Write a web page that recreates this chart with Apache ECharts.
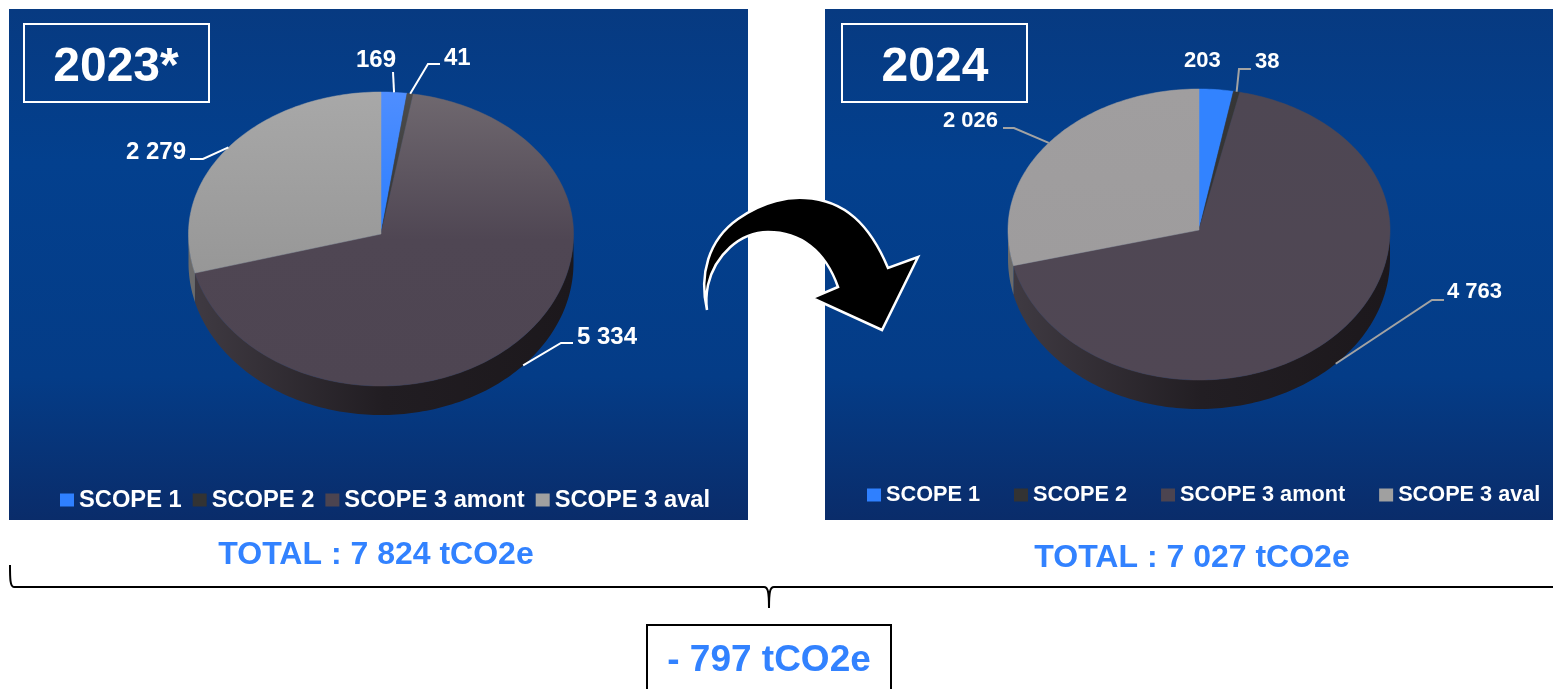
<!DOCTYPE html>
<html>
<head>
<meta charset="utf-8">
<style>
  html, body { margin: 0; padding: 0; background: #fff; overflow: hidden; }
  #main { width: 1553px; height: 689px; }
</style>
<script src="https://cdn.jsdelivr.net/npm/echarts@6/dist/echarts.min.js"></script>
</head>
<body>
<div id="main"></div>
<script>
var categories = ['SCOPE 1', 'SCOPE 2', 'SCOPE 3 amont', 'SCOPE 3 aval'];
var years = ['2023*', '2024'];
var values2023 = [169, 41, 5334, 2279];
var values2024 = [203, 38, 4763, 2026];
var totals = ['TOTAL : 7 824 tCO2e', 'TOTAL : 7 027 tCO2e'];
var difference = '- 797 tCO2e';

var FONT = '"Liberation Sans", Arial, sans-serif';
var BLUE = '#3282ff';
var legendColors = ['#2f80ff', '#333333', '#4c4450', '#a0a0a0'];

// geometry of each pie; the front half is a bit taller than the back (perspective)
var pies = [
  { cx: 381, cy: 234, rx: 192.5, ryBack: 142, ryFront: 152, depth: 29, values: values2023 },
  { cx: 1199, cy: 230, rx: 191, ryBack: 141, ryFront: 150, depth: 29, values: values2024 }
];

// elbows of the leader lines and where the label sits
var labelLayout = [
  [
    { line: [[393, 72]], x: 356, y: 60, align: 'left', size: 24 },
    { line: [[428, 64], [440, 64]], x: 444, y: 58, align: 'left', size: 24 },
    { line: [[561, 343], [573, 343]], x: 577, y: 337, align: 'left', size: 24, wall: true },
    { line: [[203, 159], [190, 159]], x: 186, y: 152, align: 'right', size: 24 }
  ],
  [
    { line: null, x: 1184, y: 61, align: 'left', size: 22 },
    { line: [[1239, 69], [1251, 69]], x: 1255, y: 62, align: 'left', size: 22 },
    { line: [[1432, 300], [1444, 300]], x: 1447, y: 292, align: 'left', size: 22, wall: true },
    { line: [[1014, 128], [1003, 128]], x: 998, y: 121, align: 'right', size: 22 }
  ]
];
var leaderColors = ['#ffffff', '#a3a3a3'];

function vGrad(a, b) {
  return new echarts.graphic.LinearGradient(0, 0, 0, 1, [{ offset: 0, color: a }, { offset: 1, color: b }]);
}
function hGrad(stops) {
  return new echarts.graphic.LinearGradient(0, 0, 1, 0, stops);
}

var topFill = [
  [vGrad('#4f8eff', '#2a7eff'), vGrad('#4c4c4c', '#333333'), new echarts.graphic.LinearGradient(0, 0, 0, 1, [{ offset: 0, color: '#6f686f' }, { offset: 0.5, color: '#4f4653' }, { offset: 1, color: '#4e4552' }]), vGrad('#a8a8a8', '#979797')],
  [vGrad('#3283ff', '#3283ff'), vGrad('#363636', '#333333'), vGrad('#4e4753', '#504754'), vGrad('#a09e9f', '#9e9c9d')]
];
var wallFill = [
  hGrad([{ offset: 0, color: '#3f3a42' }, { offset: 0.5, color: '#211d22' }, { offset: 1, color: '#1c181c' }]),
  hGrad([{ offset: 0, color: '#3f3a42' }, { offset: 0.5, color: '#221e23' }, { offset: 1, color: '#1c181c' }])
];
var wallGray = '#6b6b6b';

function ellipsePoint(pie, t, shift) {
  var c = Math.cos(t);
  return [pie.cx + pie.rx * Math.sin(t), pie.cy - (c > 0 ? pie.ryBack : pie.ryFront) * c + (shift || 0)];
}

function arcPoints(pie, from, to, shift) {
  var pts = [];
  var n = Math.max(2, Math.ceil(Math.abs(to - from) / 0.02));
  for (var i = 0; i <= n; i++) {
    pts.push(ellipsePoint(pie, from + (to - from) * i / n, shift));
  }
  return pts;
}

function formatValue(v) {
  return String(v).replace(/\B(?=(\d{3})+$)/g, ' ');
}

// one scope of one year: wall, top face, leader and label
function renderSlice(params, api) {
  var yearIdx = params.dataIndex;
  var scope = params.seriesIndex;
  var pie = pies[yearIdx];
  var total = pie.values.reduce(function (a, b) { return a + b; }, 0);
  var before = 0;
  for (var i = 0; i < scope; i++) before += pie.values[i];
  var value = api.value(0);
  var start = before / total * Math.PI * 2;
  var end = (before + value) / total * Math.PI * 2;
  var children = [];

  // the visible wall is the front half only
  var wallFrom = Math.max(start, Math.PI / 2);
  var wallTo = Math.min(end, Math.PI * 1.5);
  if (wallTo > wallFrom) {
    var front = arcPoints(pie, wallFrom, wallTo, 0);
    var back = arcPoints(pie, wallTo, wallFrom, pie.depth);
    children.push({
      type: 'polygon',
      shape: { points: front.concat(back) },
      style: { fill: scope === 3 ? wallGray : wallFill[yearIdx] }
    });
  }

  var top = [[pie.cx, pie.cy]].concat(arcPoints(pie, start, end, 0));
  children.push({
    type: 'polygon',
    shape: { points: top },
    style: { fill: topFill[yearIdx][scope], stroke: topFill[yearIdx][scope], lineWidth: 0.5 }
  });

  var layout = labelLayout[yearIdx][scope];
  if (layout.line) {
    var anchor = ellipsePoint(pie, (start + end) / 2, layout.wall ? pie.depth : 0);
    children.push({
      type: 'polyline',
      shape: { points: [anchor].concat(layout.line) },
      style: { fill: 'none', stroke: leaderColors[yearIdx], lineWidth: 2 }
    });
  }
  children.push({
    type: 'text',
    style: {
      x: layout.x, y: layout.y, text: formatValue(value),
      fill: '#fff', font: 'bold ' + layout.size + 'px ' + FONT,
      align: layout.align, verticalAlign: 'middle'
    }
  });
  return { type: 'group', children: children };
}

function panel(x, width) {
  return {
    type: 'rect', z: 0,
    shape: { x: x, y: 9, width: width, height: 511 },
    style: {
      fill: new echarts.graphic.LinearGradient(0, 0, 0, 1, [
        { offset: 0, color: '#073a81' },
        { offset: 0.3, color: '#03408e' },
        { offset: 0.72, color: '#043c87' },
        { offset: 1, color: '#0a2c6a' }
      ])
    }
  };
}

function yearBox(x, label, textX) {
  return [
    { type: 'rect', z: 1, shape: { x: x, y: 24, width: 185, height: 78 }, style: { fill: 'none', stroke: '#fff', lineWidth: 2 } },
    { type: 'text', z: 1, style: { x: textX, y: 67.5, text: label, fill: '#fff', font: 'bold 48px ' + FONT, align: 'center', verticalAlign: 'middle' } }
  ];
}

function blueText(x, y, text, size) {
  return { type: 'text', z: 1, style: { x: x, y: y, text: text, fill: BLUE, font: 'bold ' + size + 'px ' + FONT, align: 'center', verticalAlign: 'middle' } };
}

// the graphic component has no plain path type, so the two free shapes get registered
echarts.graphic.registerShape('curvedArrow', echarts.graphic.extendPath(
  'M707 310 C699 275 708 240 738 219 C765 200 790 197 805 198 C845 200 870 225 888 268 L918 257 L882 330 L812 298 L838 287 C825 250 800 232 768 232 C740 232 715 255 708 285 C706 295 706 303 707 310 Z', {}));
echarts.graphic.registerShape('brace', echarts.graphic.extendPath(
  'M10 565 C10 578 10 587 14 587 L764 587 C768 587 769 592 769 608 C769 592 770 587 774 587 L1553 587', {}));

var chart = echarts.init(document.getElementById('main'), null, { renderer: 'canvas', width: 1553, height: 689 });

var legendText = { color: '#fff', fontWeight: 'bold', fontFamily: FONT };

var option = {
  animation: false,
  backgroundColor: '#fff',
  legend: [
    {
      data: categories, left: 60, top: 488, icon: 'rect', itemWidth: 14, itemHeight: 13, itemGap: 11,
      selectedMode: false, padding: 0, textStyle: Object.assign({ fontSize: 23.7, padding: [0, 0, 0, 0] }, legendText)
    },
    {
      data: categories, left: 867, top: 484, icon: 'rect', itemWidth: 14, itemHeight: 13, itemGap: 34,
      selectedMode: false, padding: 0, textStyle: Object.assign({ fontSize: 21.7, padding: [0, 0, 0, 0] }, legendText)
    }
  ],
  graphic: {
    elements: [
      panel(9, 739),
      panel(825, 728)
    ].concat(
      yearBox(24, years[0], 116),
      yearBox(842, years[1], 935),
      [
        blueText(376, 555, totals[0], 32),
        blueText(1192, 558, totals[1], 32),
        { type: 'brace', z: 1, style: { fill: 'none', stroke: '#000', lineWidth: 2 } },
        {
          type: 'polyline', z: 1,
          shape: { points: [[647, 689], [647, 625], [891, 625], [891, 689]] },
          style: { fill: 'none', stroke: '#000', lineWidth: 2 }
        },
        blueText(769, 661, difference, 37),
        { type: 'curvedArrow', z: 5, style: { fill: '#000', stroke: '#fff', lineWidth: 2.5 } }
      ]
    )
  },
  series: categories.map(function (name, i) {
    return {
      name: name,
      type: 'custom',
      coordinateSystem: 'none',
      renderItem: renderSlice,
      itemStyle: { color: legendColors[i] },
      data: [values2023[i], values2024[i]],
      silent: true
    };
  })
};

chart.setOption(option);
</script>
</body>
</html>
